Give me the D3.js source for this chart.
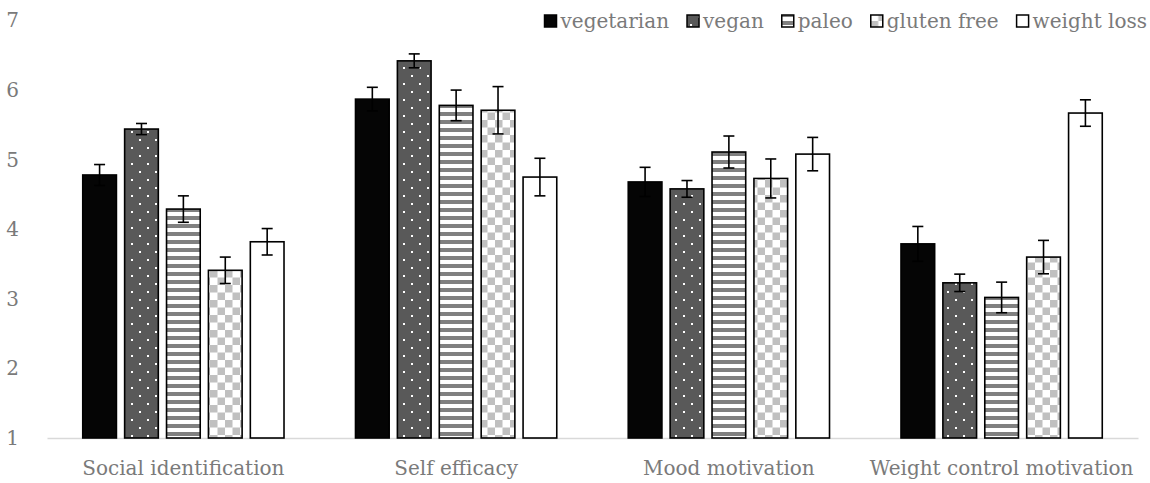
<!DOCTYPE html>
<html><head><meta charset="utf-8">
<script src="https://cdn.jsdelivr.net/npm/d3@7"></script>
<style>
body{margin:0;background:#fff;}
text{font-family:"Palatino Linotype","Book Antiqua",Palatino,"DejaVu Serif",serif;fill:#7a7a7a;}
</style></head>
<body>
<svg id="chart" width="1150" height="483"></svg>
<script>
const categories = ["Social identification","Self efficacy","Mood motivation","Weight control motivation"];
const seriesNames = ["vegetarian","vegan","paleo","gluten free","weight loss"];
const vegetarian = [4.78, 5.87, 4.68, 3.79];
const vegan      = [5.44, 6.42, 4.58, 3.23];
const paleo      = [4.29, 5.78, 5.11, 3.02];
const glutenFree = [3.41, 5.71, 4.73, 3.60];
const weightLoss = [3.82, 4.75, 5.08, 5.67];
const vegetarianErr = [0.15, 0.17, 0.21, 0.25];
const veganErr      = [0.08, 0.10, 0.12, 0.125];
const paleoErr      = [0.19, 0.22, 0.23, 0.22];
const glutenFreeErr = [0.19, 0.34, 0.28, 0.24];
const weightLossErr = [0.19, 0.27, 0.24, 0.19];
const yTicks = [1,2,3,4,5,6,7];

const values = [vegetarian, vegan, paleo, glutenFree, weightLoss];
const errs = [vegetarianErr, veganErr, paleoErr, glutenFreeErr, weightLossErr];

const svg = d3.select("#chart");
const mLeft = 47, mRight = 1138, mTop = 20.5, mBottom = 438;
const FONT = '"Palatino Linotype","Book Antiqua",Palatino,"DejaVu Serif",serif';
const FS = "20px";

const x0 = d3.scaleBand().domain(categories).range([mLeft, mRight]).padding(0);
const x1 = d3.scaleBand().domain(seriesNames).range([0, x0.bandwidth()])
  .paddingInner(0.196).paddingOuter(0.853);
const y = d3.scaleLinear().domain([1,7]).range([mBottom, mTop]);

// patterns
const defs = svg.append("defs");
const pv = defs.append("pattern").attr("id","p-vegan").attr("patternUnits","userSpaceOnUse")
  .attr("width",16).attr("height",16);
pv.append("rect").attr("width",16).attr("height",16).attr("fill","#595959");
pv.append("rect").attr("x",3).attr("y",3).attr("width",2).attr("height",2).attr("fill","#fff");
pv.append("rect").attr("x",11).attr("y",11).attr("width",2).attr("height",2).attr("fill","#fff");

const pp = defs.append("pattern").attr("id","p-paleo").attr("patternUnits","userSpaceOnUse")
  .attr("width",8).attr("height",8);
pp.append("rect").attr("width",8).attr("height",8).attr("fill","#fff");
pp.append("rect").attr("y",0).attr("width",8).attr("height",4).attr("fill","#808080");

const pg = defs.append("pattern").attr("id","p-gluten").attr("patternUnits","userSpaceOnUse")
  .attr("width",15).attr("height",15);
pg.append("rect").attr("width",15).attr("height",15).attr("fill","#fff");
pg.append("rect").attr("x",0).attr("y",0).attr("width",7.5).attr("height",7.5).attr("fill","#c0c0c0");
pg.append("rect").attr("x",7.5).attr("y",7.5).attr("width",7.5).attr("height",7.5).attr("fill","#c0c0c0");

const fills = {"vegetarian":"#050505","vegan":"url(#p-vegan)","paleo":"url(#p-paleo)","gluten free":"url(#p-gluten)","weight loss":"#fff"};

// y axis labels
const yAxis = d3.axisLeft(y).tickValues(yTicks).tickSize(0).tickPadding(0).tickFormat(d3.format("d"));
const gy = svg.append("g").attr("transform","translate(19,0)").call(yAxis);
gy.select(".domain").remove();
gy.selectAll("text").style("font-size",FS).attr("fill","#7a7a7a").attr("font-family",FONT);

// x axis
const xAxis = d3.axisBottom(x0).tickSize(0).tickPadding(23);
const gx = svg.append("g").attr("transform",`translate(0,${mBottom})`).call(xAxis);
gx.select(".domain").attr("stroke","#d9d9d9").attr("stroke-width",1.5);
gx.selectAll("text").style("font-size",FS).attr("fill","#7a7a7a").attr("font-family",FONT);

// bars
const rows = [];
categories.forEach((c,ci)=>seriesNames.forEach((s,si)=>rows.push({c, s, v:values[si][ci], e:errs[si][ci]})));
const g = svg.append("g");
g.selectAll("rect.bar").data(rows).join("rect").attr("class","bar")
  .attr("x", d=>x0(d.c)+x1(d.s)).attr("width", x1.bandwidth())
  .attr("y", d=>y(d.v)).attr("height", d=>mBottom - y(d.v))
  .attr("fill", d=>fills[d.s]).attr("stroke","#000").attr("stroke-width",1.6);

// error bars
const eb = svg.append("g").attr("stroke","#000").attr("stroke-width",1.6);
const cap = 5.5;
rows.forEach(d=>{
  const cx = x0(d.c)+x1(d.s)+x1.bandwidth()/2;
  eb.append("line").attr("x1",cx).attr("x2",cx).attr("y1",y(d.v+d.e)).attr("y2",y(d.v-d.e));
  eb.append("line").attr("x1",cx-cap).attr("x2",cx+cap).attr("y1",y(d.v+d.e)).attr("y2",y(d.v+d.e));
  eb.append("line").attr("x1",cx-cap).attr("x2",cx+cap).attr("y1",y(d.v-d.e)).attr("y2",y(d.v-d.e));
});

// legend (right aligned)
const lg = svg.append("g");
const items = seriesNames.map(s=>{
  const it = lg.append("g");
  it.append("rect").attr("x",0).attr("y",-6).attr("width",12).attr("height",12)
    .attr("fill",fills[s]).attr("stroke","#000").attr("stroke-width",1.5);
  const t = it.append("text").attr("x",16).attr("y",0).attr("dy","0.35em").style("font-size",FS).text(s);
  return {it, w: 16 + t.node().getComputedTextLength()};
});
let xr = 1147;
for (let i = items.length-1; i>=0; i--) {
  xr -= items[i].w;
  items[i].it.attr("transform",`translate(${xr},21)`);
  xr -= 18;
}
</script>
</body></html>
